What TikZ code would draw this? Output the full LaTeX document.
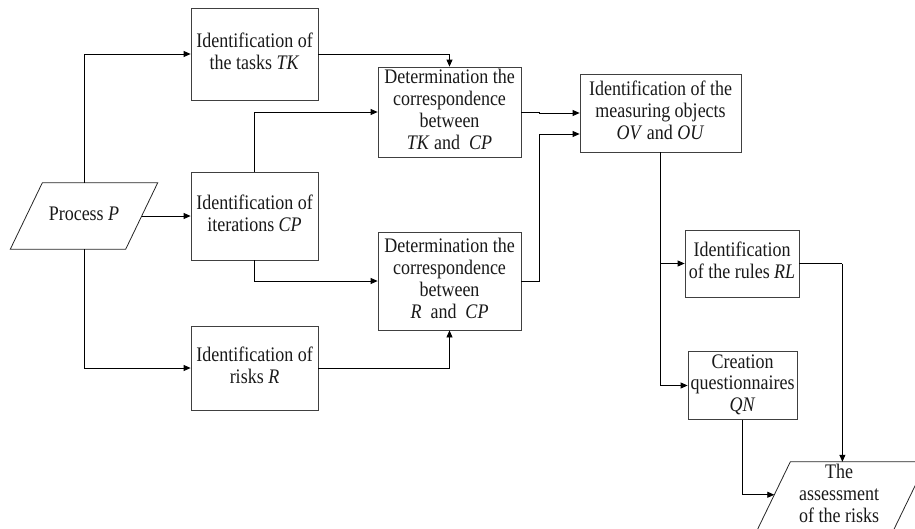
\documentclass[tikz,border=0pt]{standalone}
\usepackage{fontspec}
\setmainfont{Liberation Serif}
\usetikzlibrary{arrows.meta,calc}
\newcommand{\vtx}[1]{\scalebox{1}[1.15]{\begin{tabular}{@{}c@{}}#1\end{tabular}}}
\begin{document}
\begin{tikzpicture}[x=1pt,y=-1pt,
  every node/.style={font=\fontsize{18}{19}\selectfont, text=black!90},
  procbox/.style={draw=black!75, line width=0.8pt, rectangle, inner sep=1pt},
  datatext/.style={draw=none, rectangle, inner sep=1pt},
  dataedge/.style={draw=black!85, line width=0.8pt, line join=miter},
  conn/.style={draw=black, line width=0.8pt, -{Triangle[length=7pt,width=6pt]}},
  plain/.style={draw=black, line width=0.8pt}]
\useasboundingbox (0,0) rectangle (915,528);
% data (parallelogram) nodes
\node[datatext, minimum width=115pt, minimum height=66pt] (P) at (84,216) {\vtx{Process \textit{P}}};
\draw[dataedge] ($(P.north west)+(16,0)$) -- ($(P.north east)+(16,0)$)
   -- ($(P.south east)-(16,0)$) -- ($(P.south west)-(16,0)$) -- cycle;
\node[datatext, minimum width=136pt, minimum height=80pt] (A) at (839,502) {};
\node[datatext] (At) at (839,496) {\vtx{The\\assessment\\of the risks}};
\draw[dataedge] ($(A.north west)+(19.5,0)$) coordinate (atl) -- ($(A.north east)+(19.5,0)$)
   -- ($(A.south east)-(19.5,0)$) -- ($(A.south west)-(19.5,0)$) coordinate (abl) -- cycle;
% process boxes
\node[procbox, minimum width=127pt, minimum height=92pt] (TK) at (254.5,54) {\vtx{Identification of\\the tasks \textit{TK}}};
\node[procbox, minimum width=127pt, minimum height=88pt] (CP) at (254.5,216) {\vtx{Identification of\\iterations \textit{CP}}};
\node[procbox, minimum width=127pt, minimum height=84pt] (R) at (254.5,368) {\vtx{Identification of\\risks \textit{R}}};
\node[procbox, minimum width=143pt, minimum height=90pt] (D1) at (449.5,112) {\vtx{Determination the\\correspondence\\between\\\textit{TK} and~~\textit{CP}}};
\node[procbox, minimum width=143pt, minimum height=98pt] (D2) at (449.5,281) {\vtx{Determination the\\correspondence\\between\\\textit{R}~~and~~\textit{CP}}};
\node[procbox, minimum width=161pt, minimum height=78pt] (OV) at (660.5,113) {\vtx{Identification of the\\measuring objects\\\textit{OV} and \textit{OU}}};
\node[procbox, minimum width=114pt, minimum height=67pt] (RL) at (742,263.5) {\vtx{Identification\\of the rules \textit{RL}}};
\node[procbox, minimum width=109pt, minimum height=67pt] (QN) at (742.5,385.5) {\vtx{Creation\\questionnaires\\\textit{QN}}};
% connectors
\draw[conn] (P.north) |- (TK.west);
\draw[conn] (P.east) -- (CP.west);
\draw[conn] (P.south) |- (R.west);
\draw[conn] (TK.east) -| (D1.north);
\draw[conn] (CP.north) |- (D1.west);
\draw[conn] (CP.south) |- (D2.west);
\draw[conn] (R.east) -| (D2.south);
\draw[conn] (D1.east) -- ++(18,0) |- (OV.west);
\draw[conn] (D2.east) -- ++(18,0) |- ($(OV.west)+(0,21)$);
\draw[conn] (OV.south) |- (RL.west);
\draw[conn] (OV.south) |- (QN.west);
\draw[plain] (RL.east) -- ++(43,0) coordinate (rlc);
\draw[conn] (rlc) -- (rlc |- A.north);
\coordinate (aleft) at ($(atl)!0.41!(abl)$);
\draw[conn] (QN.south) |- (aleft);
\end{tikzpicture}
\end{document}
